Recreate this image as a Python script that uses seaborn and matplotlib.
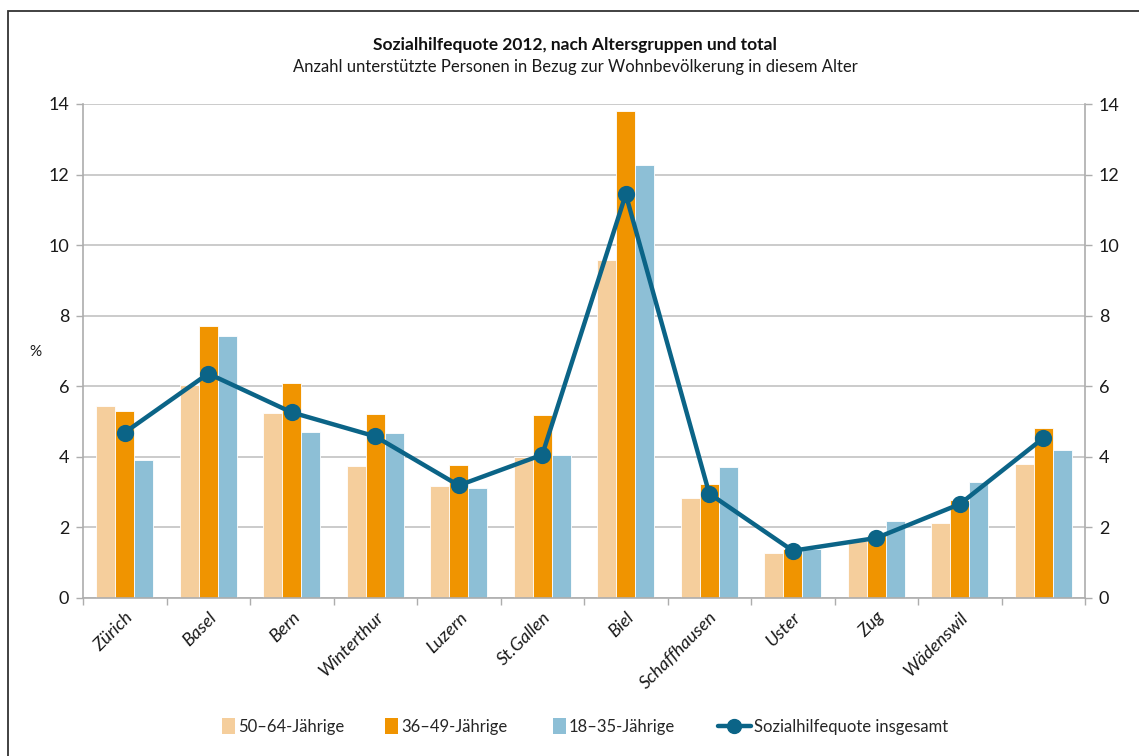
import matplotlib
matplotlib.use("Agg")
import matplotlib.pyplot as plt
import seaborn as sns
import pandas as pd
from matplotlib.lines import Line2D
from matplotlib.patches import Rectangle, Patch
from matplotlib.legend_handler import HandlerPatch
from matplotlib.ticker import FixedLocator, NullFormatter

cities = ["Zürich", "Basel", "Bern", "Winterthur", "Luzern", "St.Gallen", "Biel",
          "Schaffhausen", "Uster", "Zug", "Wädenswil", " "]
age_50_64 = [5.45, 6.04, 5.23, 3.73, 3.17, 4.00, 9.57, 2.84, 1.27, 1.61, 2.13, 3.81]
age_36_49 = [5.30, 7.71, 6.10, 5.21, 3.77, 5.18, 13.81, 3.23, 1.40, 1.79, 2.77, 4.82]
age_18_35 = [3.91, 7.43, 4.71, 4.67, 3.13, 4.04, 12.28, 3.70, 1.39, 2.17, 3.30, 4.19]
total = [4.69, 6.36, 5.26, 4.58, 3.19, 4.06, 11.44, 2.96, 1.34, 1.70, 2.66, 4.53]
groups = ["50–64-Jährige", "36–49-Jährige", "18–35-Jährige"]
line_label = "Sozialhilfequote insgesamt"
title = "Sozialhilfequote 2012, nach Altersgruppen und total"
subtitle = "Anzahl unterstützte Personen in Bezug zur Wohnbevölkerung in diesem Alter"
yticks = [0, 2, 4, 6, 8, 10, 12, 14]

colors = ["#F5CE9C", "#F09400", "#8DBFD6"]
line_color = "#0B6487"
grid_color = "#C2C2C2"
text_color = "#1A1A1A"

sns.set_theme(style="white")
plt.rcParams["font.family"] = ["Lato", "DejaVu Sans"]

df = pd.DataFrame({
    "city": cities * 3,
    "group": [groups[0]] * 12 + [groups[1]] * 12 + [groups[2]] * 12,
    "value": age_50_64 + age_36_49 + age_18_35,
})

fig = plt.figure(figsize=(11.39, 7.56), dpi=100)
ax = fig.add_axes([83 / 1139, 1 - 598 / 756, (1085 - 83) / 1139, (598 - 104) / 756])

sns.barplot(data=df, x="city", y="value", hue="group", hue_order=groups,
            order=cities, palette=colors, saturation=1, width=0.68, ax=ax,
            edgecolor="white", linewidth=0.6, legend=False, errorbar=None)
sns.pointplot(x=cities, y=total, order=cities, color=line_color, ax=ax,
              markers="o", markersize=10, linewidth=3.2, errorbar=None)

ax.set_ylim(0, 14)
ax.set_xlim(-0.5, len(cities) - 0.5)
ax.set_yticks(yticks)
ax.set_yticklabels([str(v) for v in yticks], fontsize=13, color=text_color)
ax.yaxis.grid(True, color=grid_color, linewidth=1.2)
ax.set_axisbelow(True)
ax.set_xlabel("")
ax.set_ylabel("")

for s in ["left", "right", "bottom"]:
    ax.spines[s].set_visible(True)
    ax.spines[s].set_color("#ADADAD")
    ax.spines[s].set_linewidth(1.2)
ax.spines["top"].set_visible(False)

ax.tick_params(axis="y", which="major", direction="out", length=5, width=1,
               color="#ADADAD", left=True, pad=5)
ax.set_xticks(range(len(cities)))
ax.set_xticklabels(cities, rotation=45, ha="right", rotation_mode="anchor",
                   fontsize=13, fontstyle="italic", color=text_color)
ax.tick_params(axis="x", which="major", length=0, pad=8)
ax.xaxis.set_minor_locator(FixedLocator([i - 0.5 for i in range(len(cities) + 1)]))
ax.xaxis.set_minor_formatter(NullFormatter())
ax.tick_params(axis="x", which="minor", direction="out", length=5, width=1,
               color="#ADADAD", bottom=True)

ax2 = ax.twinx()
ax2.set_ylim(0, 14)
ax2.set_yticks(yticks)
ax2.set_yticklabels([str(v) for v in yticks], fontsize=13, color=text_color)
ax2.tick_params(axis="y", direction="out", length=5, width=1, color="#ADADAD",
                right=True, pad=5)
for s in ax2.spines.values():
    s.set_visible(False)
ax2.grid(False)

fig.text(35 / 1139, 1 - 352 / 756, "%", fontsize=11, color=text_color,
         ha="center", va="center")
fig.text(575 / 1139, 1 - 45 / 756, title, fontsize=12.5, fontweight="bold",
         ha="center", va="center", color="#111111")
fig.text(575 / 1139, 1 - 67 / 756, subtitle, fontsize=12,
         ha="center", va="center", color=text_color)

fig.patches.append(Rectangle((8 / 1139, -0.1), 1.2, 1 - 11 / 756 + 0.1,
                             transform=fig.transFigure, fill=False,
                             edgecolor="#333333", linewidth=1.3, zorder=0))


def square_patch(legend, orig_handle, xdescent, ydescent, width, height, fontsize):
    h = height * 1.35
    return Rectangle((-xdescent, -ydescent - (h - height) / 2), width, h)


legend_y = 1 - 727 / 756
legend_x = [222, 385, 553, 718]
handles = [Patch(facecolor=c, edgecolor="none") for c in colors]
handles.append(Line2D([0], [0], color=line_color, linewidth=3.2, marker="o",
                      markersize=10))
labels = groups + [line_label]
for h, lab, xp in zip(handles, labels, legend_x):
    is_line = isinstance(h, Line2D)
    fig.legend([h], [lab], loc="center left",
               bbox_to_anchor=(xp / 1139, legend_y), frameon=False,
               fontsize=12, borderpad=0, borderaxespad=0,
               handlelength=1.95 if is_line else 0.75, handletextpad=0.2,
               handler_map={Patch: HandlerPatch(patch_func=square_patch)})

fig.savefig("out.png", dpi=100)
